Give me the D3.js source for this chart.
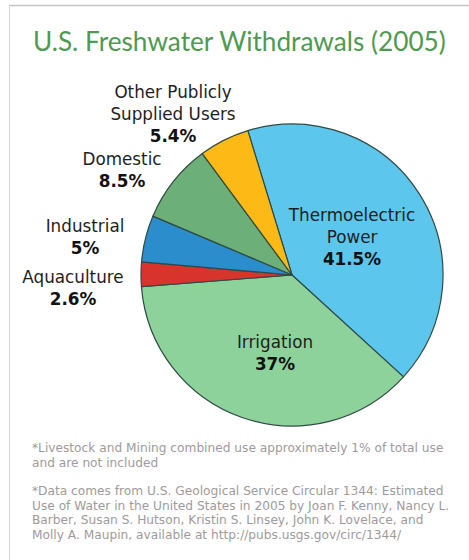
<!DOCTYPE html>
<html lang="en">
<head>
<meta charset="UTF-8">
<title>U.S. Freshwater Withdrawals (2005)</title>
<script src="https://d3js.org/d3.v7.min.js"></script>
<style>
    body { margin: 0; background: #fff; }
    svg { display: block; }
</style>
</head>
<body>
<script>

    // data
    var categories = ["Thermoelectric Power", "Irrigation", "Aquaculture", "Industrial", "Domestic", "Other Publicly Supplied Users"];
    var percents = [41.5, 37, 2.6, 5, 8.5, 5.4];
    var percentLabels = ["41.5%", "37%", "2.6%", "5%", "8.5%", "5.4%"];
    var labelLines = [["Thermoelectric", "Power"], ["Irrigation"], ["Aquaculture"], ["Industrial"], ["Domestic"], ["Other Publicly", "Supplied Users"]];
    var colors = ["#5cc6ec", "#8ed29b", "#d9342c", "#2b8dcb", "#6caf78", "#fdb916"];
    var footnotes = [
        ["*Livestock and Mining combined use approximately 1% of total use",
         "and are not included"],
        ["*Data comes from U.S. Geological Service Circular 1344: Estimated",
         "Use of Water in the United States in 2005 by Joan F. Kenny, Nancy L.",
         "Barber, Susan S. Hutson, Kristin S. Linsey, John K. Lovelace, and",
         "Molly A. Maupin, available at http://pubs.usgs.gov/circ/1344/"]
    ];

    var width = 469, height = 560;
    var cx = 292, cy = 275, radius = 151;

    // label anchor points (centre x, first baseline y)
    var labelPos = [
        {x: 352, y: 221},
        {x: 275, y: 348},
        {x: 73, y: 283},
        {x: 85, y: 232},
        {x: 122, y: 165},
        {x: 173, y: 98}
    ];

    var svg = d3.select("body").append("svg")
        .attr("width", width)
        .attr("height", height);

    // frame lines (top + left)
    svg.append("line")
        .attr("x1", 9).attr("y1", 5.5).attr("x2", width).attr("y2", 5.5)
        .attr("stroke", "#c4c4c4").attr("stroke-width", 1.5);
    svg.append("line")
        .attr("x1", 9.5).attr("y1", 5).attr("x2", 9.5).attr("y2", height)
        .attr("stroke", "#d6d6d6").attr("stroke-width", 1);

    // title, sized so it spans ~413px like the original
    var title = svg.append("text")
        .attr("x", 33)
        .attr("y", 51)
        .attr("font-family", "Lato, 'Open Sans', sans-serif")
        .attr("font-size", "29px")
        .attr("fill", "#4e9a50")
        .text("U.S. Freshwater Withdrawals (2005)");
    var tw = title.node().getComputedTextLength();
    title.attr("font-size", (29 * 413 / tw).toFixed(2) + "px");

    // pie
    var start = -17 * Math.PI / 180;
    var pie = d3.pie()
        .sort(null)
        .startAngle(start)
        .endAngle(start + 2 * Math.PI)
        .value(function (d) { return d; });

    var arc = d3.arc().innerRadius(0).outerRadius(radius);

    var g_pie = svg.append("g")
        .attr("transform", "translate(" + cx + "," + cy + ")");

    g_pie.selectAll("path")
        .data(pie(percents))
        .enter().append("path")
        .attr("d", arc)
        .attr("fill", function (d, i) { return colors[i]; })
        .attr("stroke", "#2f4a45")
        .attr("stroke-width", 1.2)
        .attr("stroke-linejoin", "round");

    // labels
    var g_lab = svg.append("g")
        .attr("font-family", "'DejaVu Sans', Verdana, sans-serif")
        .attr("font-size", "16.8px")
        .attr("text-anchor", "middle");

    for (var i = 0; i < categories.length; i++) {
        var p = labelPos[i];
        var lines = labelLines[i];
        for (var j = 0; j < lines.length; j++) {
            g_lab.append("text")
                .attr("x", p.x)
                .attr("y", p.y + j * 22)
                .attr("fill", "#1e1e1e")
                .text(lines[j]);
        }
        g_lab.append("text")
            .attr("x", p.x)
            .attr("y", p.y + lines.length * 22)
            .attr("font-weight", "bold")
            .attr("fill", "#111")
            .text(percentLabels[i]);
    }

    // footnotes
    var g_note = svg.append("g")
        .attr("font-family", "'DejaVu Sans', Verdana, sans-serif")
        .attr("font-size", "12.2px")
        .attr("fill", "#a09a9c");

    var noteY = [452, 495];
    footnotes.forEach(function (block, b) {
        block.forEach(function (line, k) {
            g_note.append("text")
                .attr("x", 32)
                .attr("y", noteY[b] + k * 14.7)
                .text(line);
        });
    });

</script>
</body>
</html>
